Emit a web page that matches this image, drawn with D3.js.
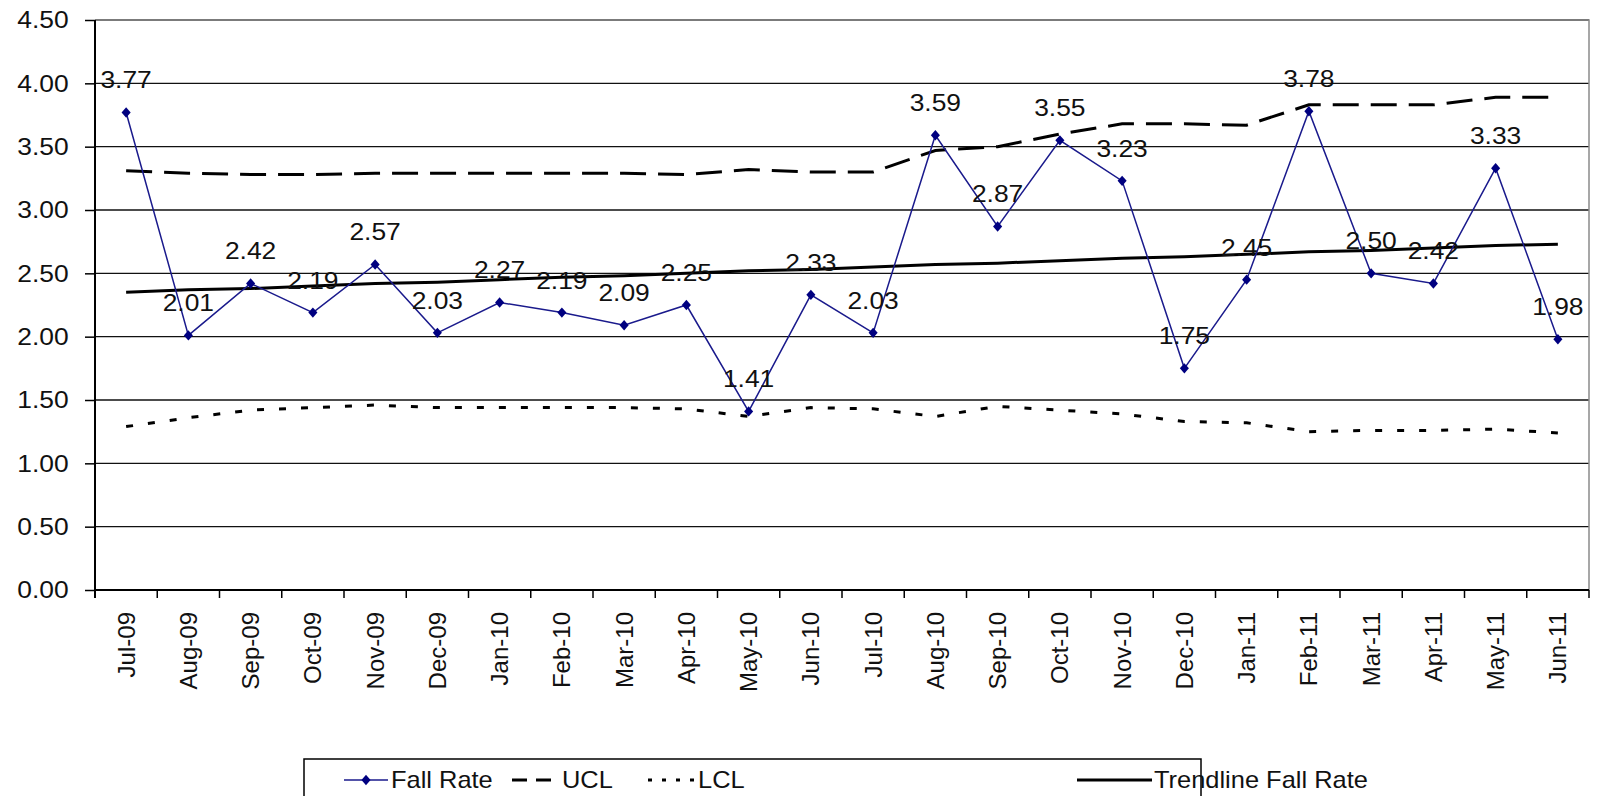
<!DOCTYPE html>
<html>
<head>
<meta charset="utf-8">
<script src="https://cdn.jsdelivr.net/npm/d3@7"></script>
<style>
  html, body { margin: 0; padding: 0; background: #fff; }
  svg { display: block; font-family: "Liberation Sans", Arial, sans-serif; }
</style>
</head>
<body>
<svg id="chart" width="1599" height="796"></svg>
<script>
const months = ["Jul-09","Aug-09","Sep-09","Oct-09","Nov-09","Dec-09","Jan-10","Feb-10","Mar-10","Apr-10","May-10","Jun-10","Jul-10","Aug-10","Sep-10","Oct-10","Nov-10","Dec-10","Jan-11","Feb-11","Mar-11","Apr-11","May-11","Jun-11"];
const fallRate = [3.77,2.01,2.42,2.19,2.57,2.03,2.27,2.19,2.09,2.25,1.41,2.33,2.03,3.59,2.87,3.55,3.23,1.75,2.45,3.78,2.50,2.42,3.33,1.98];
const ucl = [3.31,3.29,3.28,3.28,3.29,3.29,3.29,3.29,3.29,3.28,3.32,3.30,3.30,3.47,3.50,3.60,3.68,3.68,3.67,3.83,3.83,3.83,3.89,3.89];
const lcl = [1.29,1.36,1.42,1.44,1.46,1.44,1.44,1.44,1.44,1.43,1.37,1.44,1.43,1.37,1.45,1.42,1.39,1.33,1.32,1.25,1.26,1.26,1.27,1.24];
const trend = [2.35,2.37,2.38,2.40,2.42,2.43,2.45,2.47,2.48,2.50,2.52,2.53,2.55,2.57,2.58,2.60,2.62,2.63,2.65,2.67,2.68,2.70,2.72,2.73];
const yTicks = [0,0.5,1,1.5,2,2.5,3,3.5,4,4.5];
const legendItems = ["Fall Rate","UCL","LCL","Trendline Fall Rate"];

const svg = d3.select("#chart");
const L = 95, R = 1589, T = 20, B = 590;
const FS = 24;

const x = d3.scaleBand().domain(months).range([L, R]).paddingInner(0).paddingOuter(0);
const y = d3.scaleLinear().domain([0, 4.5]).range([B, T]);
const cx = m => x(m) + x.bandwidth() / 2;

// gridlines
svg.append("g").selectAll("line").data(yTicks.filter(t => t > 0)).join("line")
  .attr("x1", L).attr("x2", R).attr("y1", d => y(d)).attr("y2", d => y(d))
  .attr("stroke", "#111").attr("stroke-width", 1.4);

// plot border (top / right)
svg.append("path")
  .attr("d", `M${L},${T}H${R}V${B}`)
  .attr("fill", "none").attr("stroke", "#8a8a8a").attr("stroke-width", 1.5);

// Y axis
const yAxis = d3.axisLeft(y).tickValues(yTicks).tickFormat(d3.format(".2f")).tickSize(10).tickPadding(16);
const gy = svg.append("g").attr("transform", `translate(${L},0)`).call(yAxis);
gy.select(".domain").attr("stroke", "#000").attr("stroke-width", 2).attr("d", `M0,${T}V${B + 8}`);
gy.selectAll(".tick line").attr("stroke", "#000").attr("stroke-width", 1.5);
gy.selectAll(".tick text").attr("font-size", FS).attr("fill", "#111")
  .attr("font-family", "Liberation Sans, Arial, sans-serif")
  .attr("transform", "scale(1.1,1)").attr("x", -24);

// X axis
const xAxis = d3.axisBottom(x).tickSize(0).tickPadding(0);
const gx = svg.append("g").attr("transform", `translate(0,${B})`).call(xAxis);
gx.select(".domain").attr("stroke", "#000").attr("stroke-width", 2).attr("d", `M${L},0H${R}`);
gx.selectAll(".tick text")
  .attr("font-size", FS).attr("fill", "#111")
  .attr("font-family", "Liberation Sans, Arial, sans-serif")
  .attr("text-anchor", "end")
  .attr("transform", "rotate(-90)")
  .attr("x", -22).attr("y", 0).attr("dy", "0.35em");
// category boundary ticks
svg.append("g").selectAll("line").data(months.concat(["__end"])).join("line")
  .attr("x1", (d, i) => L + i * x.bandwidth()).attr("x2", (d, i) => L + i * x.bandwidth())
  .attr("y1", B).attr("y2", B + 8).attr("stroke", "#000").attr("stroke-width", 1.5);

// series
const lineGen = arr => d3.line().x((d, i) => cx(months[i])).y(d => y(d))(arr);

svg.append("path").attr("d", lineGen(lcl)).attr("fill", "none")
  .attr("stroke", "#000").attr("stroke-width", 3).attr("stroke-dasharray", "7,15");
svg.append("path").attr("d", lineGen(ucl)).attr("fill", "none")
  .attr("stroke", "#000").attr("stroke-width", 3).attr("stroke-dasharray", "26,12");
svg.append("path").attr("d", lineGen(trend)).attr("fill", "none")
  .attr("stroke", "#000").attr("stroke-width", 3);
svg.append("path").attr("d", lineGen(fallRate)).attr("fill", "none")
  .attr("stroke", "#1a1a8c").attr("stroke-width", 1.5);

const diamond = d3.symbol().type(d3.symbolDiamond2).size(62);
svg.append("g").selectAll("path").data(fallRate).join("path")
  .attr("d", diamond)
  .attr("transform", (d, i) => `translate(${cx(months[i])},${y(d)}) scale(0.92,1.05)`)
  .attr("fill", "#000080");

// data labels
svg.append("g").selectAll("text").data(fallRate).join("text")
  .attr("x", (d, i) => cx(months[i]))
  .attr("y", d => y(d) - 24)
  .attr("text-anchor", "middle")
  .attr("font-size", FS).attr("fill", "#111")
  .attr("transform", (d, i) => `translate(${cx(months[i])},0) scale(1.1,1) translate(${-cx(months[i])},0)`)
  .text(d => d.toFixed(2));

// legend
const lg = svg.append("g");
lg.append("rect").attr("x", 304).attr("y", 759).attr("width", 897).attr("height", 50)
  .attr("fill", "#fff").attr("stroke", "#000").attr("stroke-width", 1.5);
const ly = 780;
// Fall Rate
lg.append("line").attr("x1", 344).attr("x2", 388).attr("y1", ly).attr("y2", ly)
  .attr("stroke", "#1a1a8c").attr("stroke-width", 1.5);
lg.append("path").attr("d", diamond).attr("transform", `translate(366,${ly}) scale(0.92,1.05)`).attr("fill", "#000080");
// UCL
lg.append("line").attr("x1", 512).attr("x2", 552).attr("y1", ly).attr("y2", ly)
  .attr("stroke", "#000").attr("stroke-width", 3).attr("stroke-dasharray", "15,9");
// LCL
lg.append("line").attr("x1", 648).attr("x2", 694).attr("y1", ly).attr("y2", ly)
  .attr("stroke", "#000").attr("stroke-width", 3).attr("stroke-dasharray", "4,10");
// Trendline
lg.append("line").attr("x1", 1077).attr("x2", 1152).attr("y1", ly).attr("y2", ly)
  .attr("stroke", "#000").attr("stroke-width", 3);
const lx = [391, 562, 698, 1154];
lg.selectAll("text.leg").data(legendItems).join("text")
  .attr("class", "leg")
  .attr("x", (d, i) => lx[i]).attr("y", ly).attr("dy", "0.35em")
  .attr("font-size", FS).attr("fill", "#111")
  .attr("transform", (d, i) => `translate(${lx[i]},0) scale(1.06,1) translate(${-lx[i]},0)`)
  .text(d => d);
</script>
</body>
</html>
